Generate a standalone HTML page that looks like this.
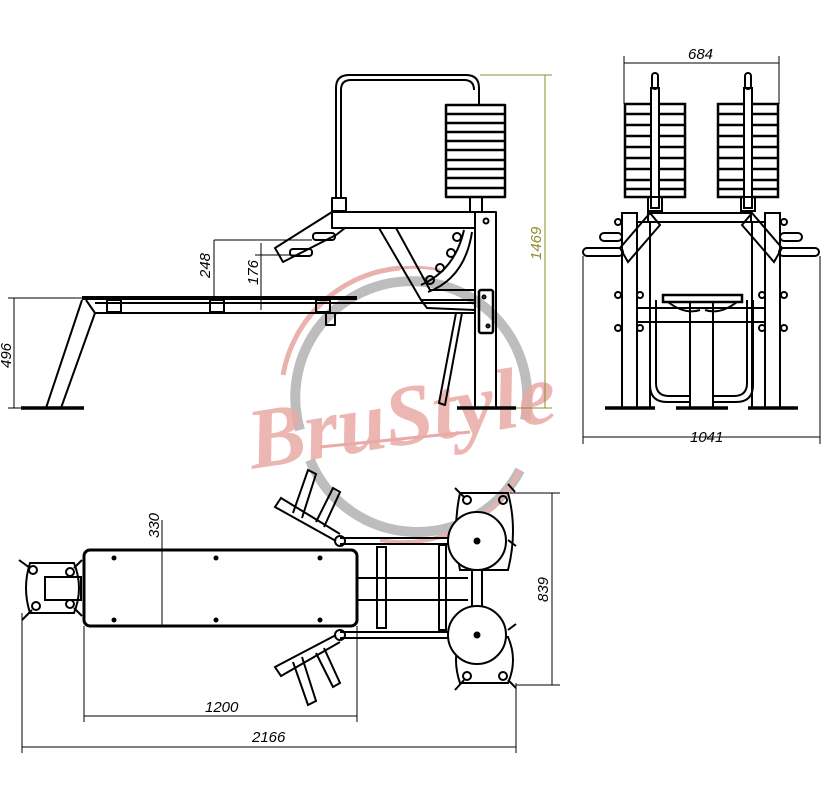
<!DOCTYPE html>
<html><head><style>
html,body{margin:0;padding:0;background:#fff;}
svg{display:block;}
text{font-family:"Liberation Sans",sans-serif;font-style:italic;}
</style></head><body>
<svg width="829" height="795" viewBox="0 0 829 795" xmlns="http://www.w3.org/2000/svg">
<rect width="829" height="795" fill="#fff"/>
<!-- watermark -->
<g fill="none">
<path d="M300 430 A116 116 0 1 1 525 420" stroke="#bdbdbd" stroke-width="10"/>
<path d="M310 460 A116 116 0 0 0 520 470" stroke="#bdbdbd" stroke-width="10"/>
<path d="M283 375 A130 130 0 0 1 400 268" stroke="#eab2ae" stroke-width="5"/>
<path d="M400 268 A125 125 0 0 1 440 270" stroke="#eab2ae" stroke-width="3"/>
<path d="M380 540 A130 130 0 0 0 520 470" stroke="#eab2ae" stroke-width="4"/>
</g>
<text x="245" y="445" transform="rotate(-9 400 410)" font-family="Liberation Serif" font-weight="bold" font-size="86" fill="#e9aaa6" fill-opacity="0.85" style="font-family:'Liberation Serif',serif;font-style:italic">BruStyle</text>
<path d="M320 447 L470 432" stroke="#e9aaa6" stroke-width="3"/>

<g fill="none" stroke="#000" stroke-width="2" stroke-linejoin="round">
<!-- SIDE VIEW -->
<path d="M336 198 V88 Q336 75 349 75 H466 Q479 75 479 88 V105"/>
<path d="M341 198 V90 Q341 80 351 80 H464 Q474 80 474 90"/>
<rect x="332" y="198" width="14" height="13"/>
<rect x="446" y="105" width="59" height="92" stroke-width="2.5"/>
<g stroke-width="2.5"><line x1="446" y1="114" x2="505" y2="114"/><line x1="446" y1="123" x2="505" y2="123"/><line x1="446" y1="132" x2="505" y2="132"/><line x1="446" y1="141" x2="505" y2="141"/><line x1="446" y1="150" x2="505" y2="150"/><line x1="446" y1="160" x2="505" y2="160"/><line x1="446" y1="169" x2="505" y2="169"/><line x1="446" y1="178" x2="505" y2="178"/><line x1="446" y1="188" x2="505" y2="188"/></g>
<rect x="470" y="197" width="12" height="15"/>
<rect x="332" y="212" width="143" height="16"/>
<rect x="475" y="212" width="21" height="196"/>
<circle cx="486" cy="221" r="2.5"/>
<rect x="479" y="290" width="14" height="43" rx="2" stroke-width="2.5"/>
<circle cx="484" cy="297" r="1.5"/><circle cx="488" cy="326" r="1.5"/>
<!-- arm -->
<path d="M332 212 L275 248 L283 262 L336 235 L345 228"/>
<rect x="313" y="233" width="22" height="7" rx="3"/><rect x="290" y="249" width="22" height="7" rx="3"/>
<!-- strut -->
<path d="M379 228 L421 300 L475 300 M396 228 L430 290 L475 290"/>
<path d="M421 300 L427 308 L475 310"/>
<path d="M464 230 Q455 270 421 285 M472 232 Q465 278 428 292"/>
<circle cx="457" cy="237" r="4"/><circle cx="451" cy="253" r="4"/><circle cx="440" cy="268" r="4"/><circle cx="430" cy="280" r="4"/>
<!-- bench -->
<line x1="82" y1="298" x2="357" y2="298" stroke-width="4"/>
<path d="M86 300 L95 313 H475 M95 303 H475"/>
<rect x="107" y="300" width="14" height="12"/><rect x="210" y="300" width="14" height="12"/><rect x="316" y="300" width="14" height="12"/>
<path d="M326 313 V325 L335 325 V313"/>
<path d="M82 300 L46 408 M95 313 L61 408"/>
<path d="M456 313 L439 403 L445 405 L462 313"/>
<line x1="21" y1="408" x2="84" y2="408" stroke-width="3.5"/>
<line x1="457" y1="408" x2="516" y2="408" stroke-width="3.5"/>
</g>
<!-- side dims -->
<g fill="none" stroke="#000" stroke-width="1">
<line x1="214" y1="240" x2="214" y2="298"/><line x1="214" y1="240" x2="312" y2="240"/>
<line x1="261" y1="243" x2="261" y2="310"/><line x1="255" y1="255" x2="300" y2="255"/>
<line x1="14" y1="298" x2="14" y2="408"/><line x1="8" y1="298" x2="82" y2="298"/><line x1="8" y1="408" x2="40" y2="408"/>
<line x1="545" y1="75" x2="545" y2="408" stroke="#8d8d2e"/><line x1="480" y1="75" x2="552" y2="75" stroke="#8d8d2e"/><line x1="516" y1="408" x2="552" y2="408" stroke="#8d8d2e"/>
</g>
<g font-size="15" fill="#000">
<text transform="translate(210 278) rotate(-90)">248</text>
<text transform="translate(258 285) rotate(-90)">176</text>
<text transform="translate(11 368) rotate(-90)">496</text>
<text transform="translate(541 260) rotate(-90)" fill="#8d8d2e">1469</text>
</g>

<!-- FRONT VIEW -->
<g fill="none" stroke="#000" stroke-width="2">
<g id="stk"><rect x="625" y="104" width="60" height="93" stroke-width="2.5"/>
<g stroke-width="2.5"><line x1="625" y1="114" x2="685" y2="114"/><line x1="625" y1="125" x2="685" y2="125"/><line x1="625" y1="136" x2="685" y2="136"/><line x1="625" y1="147" x2="685" y2="147"/><line x1="625" y1="158" x2="685" y2="158"/><line x1="625" y1="169" x2="685" y2="169"/><line x1="625" y1="180" x2="685" y2="180"/><line x1="625" y1="189" x2="685" y2="189"/></g>
<rect x="651" y="88" width="8" height="120" fill="#fff"/><rect x="652" y="73" width="6" height="16" rx="3"/>
<rect x="648" y="197" width="14" height="14"/></g>
<use href="#stk" x="93"/>
<rect x="648" y="213" width="103" height="9"/>
<rect x="622" y="213" width="15" height="195"/><rect x="637" y="222" width="13" height="186"/>
<rect x="765" y="213" width="15" height="195"/><rect x="752" y="222" width="13" height="186"/>
<path d="M650 213 L620 248 L628 262 L660 225 Z"/>
<path d="M752 213 L782 248 L774 262 L742 225 Z"/>
<rect x="600" y="233" width="22" height="8" rx="4"/><rect x="583" y="248" width="40" height="8" rx="4"/>
<rect x="780" y="233" width="22" height="8" rx="4"/><rect x="779" y="248" width="40" height="8" rx="4"/>
<rect x="663" y="295" width="79" height="7" stroke-width="2.5"/>
<path d="M668 302 Q685 315 700 310 M737 302 Q720 315 705 310"/>
<rect x="690" y="302" width="23" height="106"/>
<path d="M650 300 V385 Q650 402 667 402 H690 M753 300 V385 Q753 402 736 402 H713"/>
<path d="M656 300 V383 Q656 396 669 396 H690 M747 300 V383 Q747 396 734 396 H713"/>
<line x1="637" y1="308" x2="765" y2="308"/><line x1="637" y1="322" x2="765" y2="322"/>
<circle cx="618" cy="295" r="3"/><circle cx="640" cy="295" r="3"/><circle cx="762" cy="295" r="3"/><circle cx="784" cy="295" r="3"/>
<circle cx="618" cy="328" r="3"/><circle cx="640" cy="328" r="3"/><circle cx="762" cy="328" r="3"/><circle cx="784" cy="328" r="3"/>
<circle cx="618" cy="222" r="3"/><circle cx="784" cy="222" r="3"/>
<line x1="605" y1="408" x2="655" y2="408" stroke-width="3.5"/><line x1="676" y1="408" x2="728" y2="408" stroke-width="3.5"/><line x1="748" y1="408" x2="798" y2="408" stroke-width="3.5"/>
</g>
<g fill="none" stroke="#000" stroke-width="1">
<line x1="624" y1="63" x2="779" y2="63"/><line x1="624" y1="56" x2="624" y2="104"/><line x1="779" y1="56" x2="779" y2="104"/>
<line x1="583" y1="437" x2="820" y2="437"/><line x1="583" y1="256" x2="583" y2="444"/><line x1="820" y1="256" x2="820" y2="444"/>
</g>
<g font-size="15" fill="#000"><text x="688" y="59">684</text><text x="690" y="442">1041</text></g>

<!-- TOP VIEW -->
<g fill="none" stroke="#000" stroke-width="2">
<path d="M30 563 Q22 588 30 613 H74 Q84 588 74 563 Z"/>
<rect x="45" y="577" width="36" height="23"/>
<circle cx="33" cy="570" r="4"/><circle cx="70" cy="572" r="4"/><circle cx="36" cy="606" r="4"/><circle cx="70" cy="604" r="4"/>
<line x1="19" y1="560" x2="30" y2="568"/><line x1="22" y1="620" x2="32" y2="610"/><line x1="74" y1="568" x2="82" y2="560"/><line x1="74" y1="608" x2="82" y2="616"/>
<rect x="84" y="550" width="273" height="76" rx="6" stroke-width="3"/>
<g fill="#000" stroke="none"><circle cx="114" cy="558" r="2.5"/><circle cx="216" cy="558" r="2.5"/><circle cx="320" cy="558" r="2.5"/><circle cx="114" cy="620" r="2.5"/><circle cx="216" cy="620" r="2.5"/><circle cx="320" cy="620" r="2.5"/></g>
<line x1="357" y1="578" x2="468" y2="578"/><line x1="357" y1="600" x2="468" y2="600"/>
<rect x="377" y="547" width="9" height="81"/><rect x="439" y="545" width="7" height="85"/>
<line x1="340" y1="538" x2="477" y2="538"/><line x1="340" y1="544" x2="477" y2="544"/>
<line x1="340" y1="632" x2="477" y2="632"/><line x1="340" y1="638" x2="477" y2="638"/>
<circle cx="340" cy="541" r="5"/><circle cx="340" cy="635" r="5"/>
<path d="M460 493 H508 Q518 530 508 570 H460 Q452 530 460 493 Z"/>
<path d="M460 637 H508 Q518 660 508 683 H460 Q452 660 460 637 Z"/>
<rect x="472" y="570" width="10" height="67"/>
<circle cx="477" cy="541" r="29" fill="#fff"/><circle cx="477" cy="635" r="29" fill="#fff"/>
<circle cx="477" cy="541" r="2.5" fill="#000"/><circle cx="477" cy="635" r="2.5" fill="#000"/>
<circle cx="467" cy="500" r="4"/><circle cx="503" cy="500" r="4"/><circle cx="467" cy="676" r="4"/><circle cx="503" cy="676" r="4"/>
<line x1="455" y1="488" x2="464" y2="497"/><line x1="508" y1="484" x2="515" y2="492"/><line x1="455" y1="690" x2="464" y2="680"/><line x1="508" y1="680" x2="516" y2="688"/>
<line x1="508" y1="540" x2="516" y2="546"/><line x1="508" y1="630" x2="516" y2="624"/>
<path d="M336 541 L275 507 L281 498 L340 534"/>
<path d="M293 513 L308 470 L316 474 L302 518 M316 522 L333 488 L340 492 L324 527"/>
<path d="M336 635 L275 667 L281 676 L340 642"/>
<path d="M293 662 L308 705 L316 701 L302 657 M316 653 L333 687 L340 683 L324 648"/>
</g>
<g fill="none" stroke="#000" stroke-width="1">
<line x1="162" y1="520" x2="162" y2="626"/>
<line x1="552" y1="493" x2="552" y2="685"/><line x1="510" y1="493" x2="560" y2="493"/><line x1="516" y1="685" x2="560" y2="685"/>
<line x1="84" y1="716" x2="357" y2="716"/><line x1="84" y1="626" x2="84" y2="722"/><line x1="357" y1="626" x2="357" y2="722"/>
<line x1="22" y1="747" x2="516" y2="747"/><line x1="22" y1="613" x2="22" y2="753"/><line x1="516" y1="683" x2="516" y2="753"/>
</g>
<g font-size="15" fill="#000">
<text transform="translate(159 538) rotate(-90)">330</text>
<text transform="translate(548 602) rotate(-90)">839</text>
<text x="205" y="712">1200</text>
<text x="252" y="742">2166</text>
</g>
</svg>
</body></html>
